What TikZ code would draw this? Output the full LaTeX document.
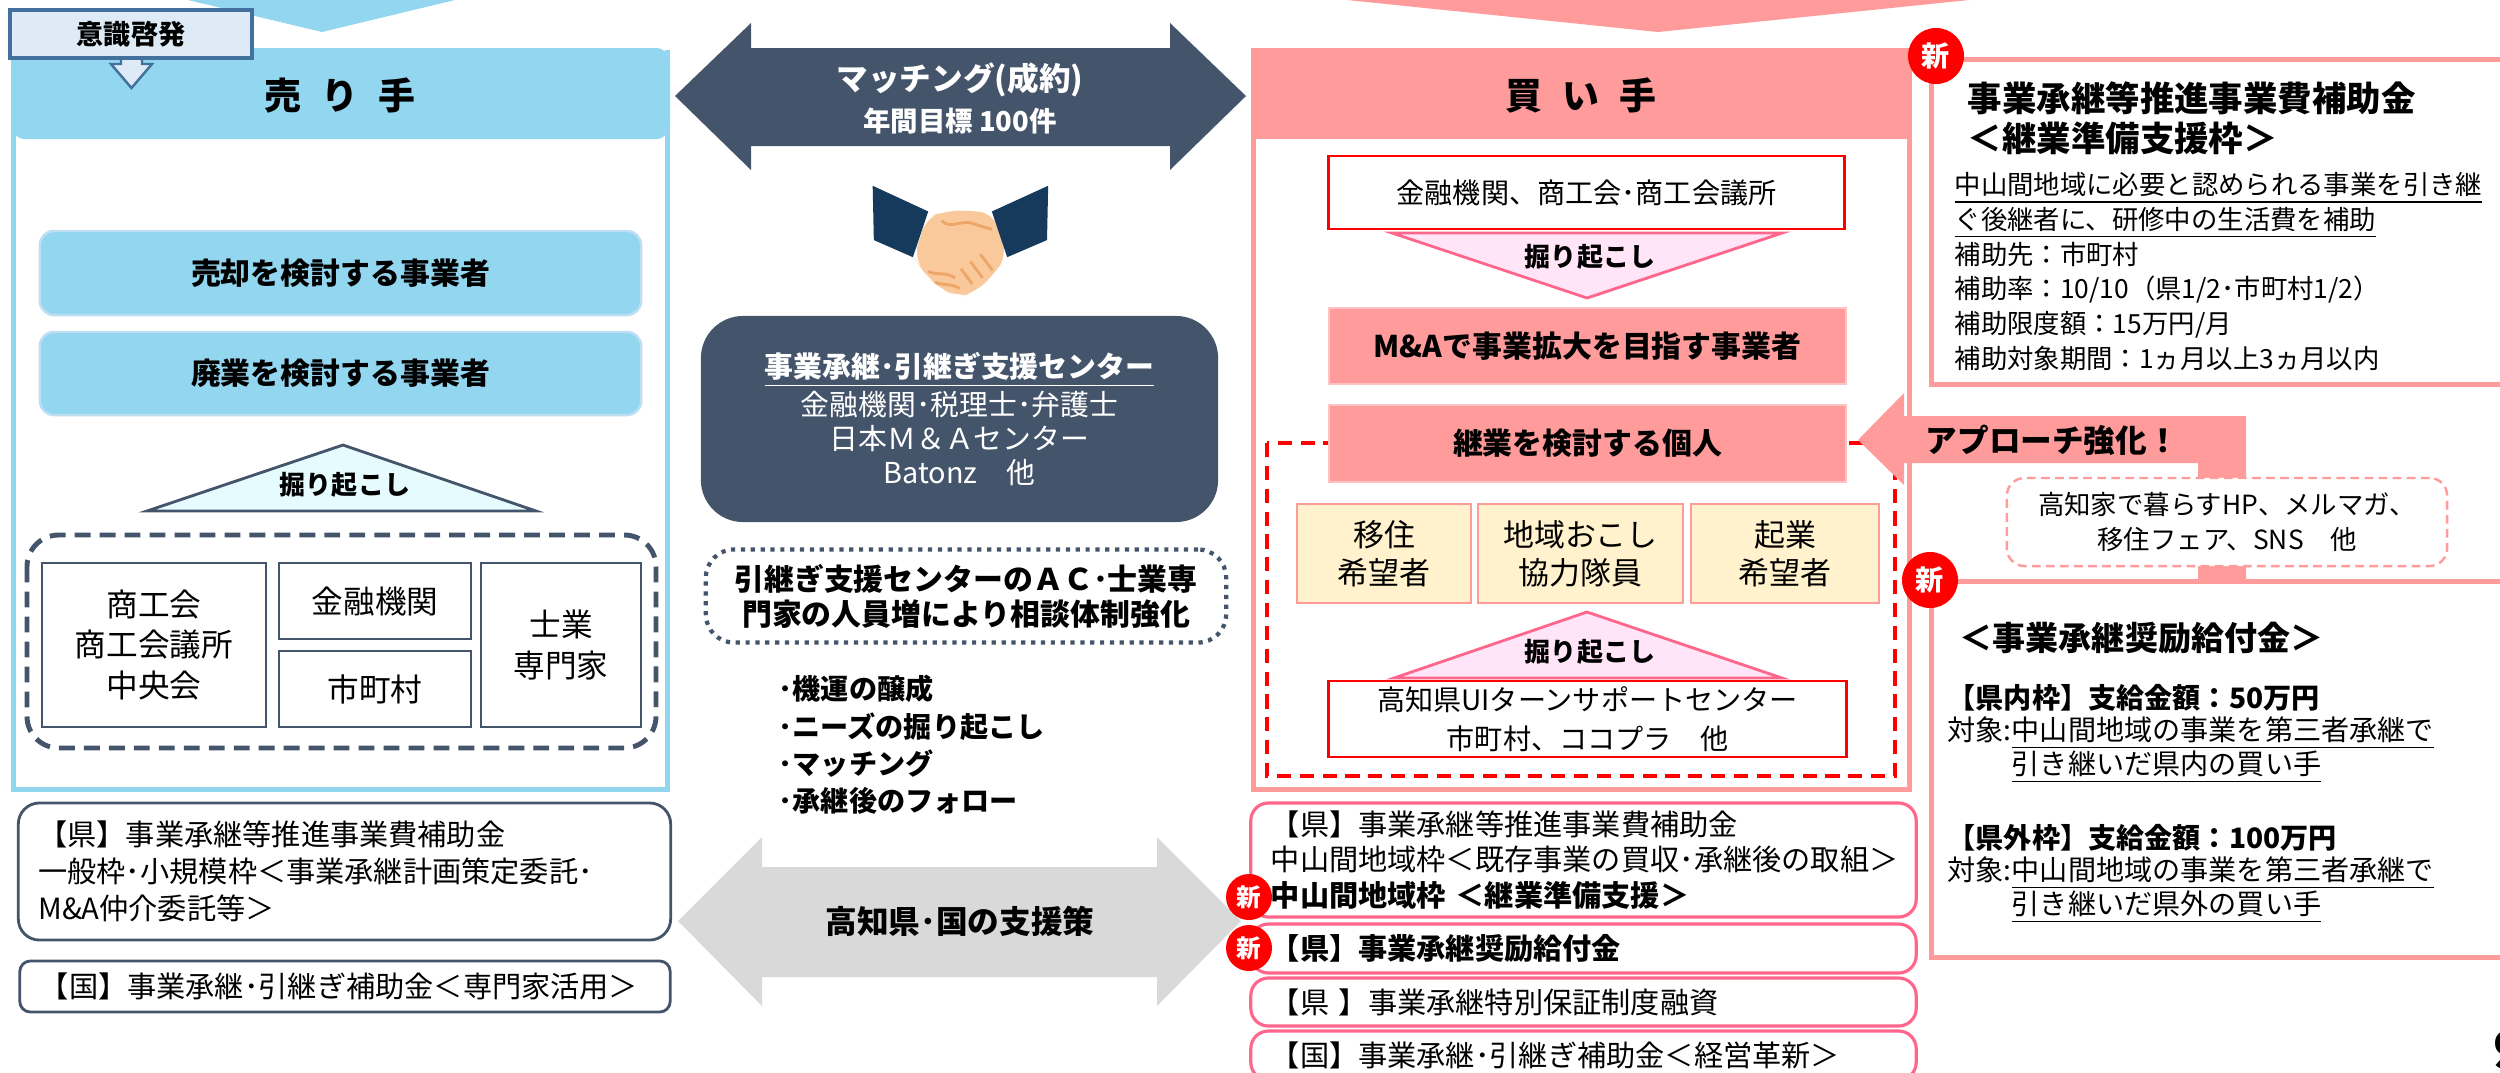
\documentclass[tikz,border=0pt]{standalone}
\usepackage{fontspec}
\setmainfont{Noto Sans CJK JP}
\usetikzlibrary{positioning}

\definecolor{skyfill}{RGB}{146,214,240}
\definecolor{skyedge}{RGB}{190,222,244}
\definecolor{slate}{RGB}{68,84,106}
\definecolor{steel}{RGB}{65,113,156}
\definecolor{paleblue}{RGB}{222,235,247}
\definecolor{palecyan}{RGB}{229,251,253}
\definecolor{salmon}{RGB}{255,155,155}
\definecolor{rose}{RGB}{255,102,140}
\definecolor{palepink}{RGB}{255,229,247}
\definecolor{cream}{RGB}{255,242,204}
\definecolor{mist}{RGB}{217,217,217}
\definecolor{navy}{RGB}{22,58,92}
\definecolor{skin}{RGB}{249,200,155}
\definecolor{skinline}{RGB}{238,166,104}

\newcommand{\fsz}[2]{\fontsize{#1}{#2}\selectfont}

\begin{document}
\begin{tikzpicture}[x=0.01cm, y=-0.01cm,
  tag/.style={draw=steel, fill=paleblue, line width=0.9pt, inner sep=0pt, font=\fsz{7.7pt}{9pt}\bfseries},
  heading/.style={inner sep=0pt, font=\fsz{10.5pt}{12pt}\bfseries},
  skybox/.style={fill=skyfill, draw=skyedge, line width=0.7pt, rounded corners=4pt, inner sep=0pt, font=\fsz{8.5pt}{10pt}\bfseries},
  orgbox/.style={draw=slate, line width=0.8pt, fill=white, inner sep=0pt, align=center, font=\fsz{9pt}{11.4pt}},
  plate/.style={draw=slate, line width=0.8pt, fill=white, align=left, inner ysep=0pt, font=\fsz{8.3pt}{10.5pt}},
  redbox/.style={draw=red, line width=0.8pt, fill=white, inner sep=0pt, align=center, font=\fsz{8pt}{11pt}},
  salmonbox/.style={fill=salmon, draw=salmon!60!white, line width=0.5pt, inner sep=0pt, font=\fsz{8.5pt}{10pt}\bfseries},
  creambox/.style={fill=cream, draw=salmon, line width=0.8pt, inner sep=0pt, align=center, font=\fsz{8.8pt}{10.8pt}},
  roseplate/.style={draw=rose, line width=0.9pt, fill=white, rounded corners=5pt, align=left, inner ysep=0pt, font=\fsz{8.3pt}{10pt}},
  newmark/.style={circle, fill=red, text=white, inner sep=0pt, minimum size=#1, font=\fsz{7pt}{7pt}\bfseries},
  newmark/.default=0.46cm,
  dig/.style={inner sep=0pt, font=\fsz{7.4pt}{8pt}\bfseries},
  note/.style={inner sep=0pt, anchor=west, align=left, font=\fsz{7.5pt}{9.85pt}}]

\useasboundingbox (0,0) rectangle (2500,1072);
\clip (0,0) rectangle (2500,1072);

% chevrons coming in from above
\fill[skyfill] (188,0) -- (322,32) -- (455,0) -- cycle;
\fill[salmon] (1347,0) -- (1658,32) -- (1969,0) -- cycle;

% ---- seller side ----
\fill[skyfill, rounded corners=4pt] (11,48) rectangle (670,139);
\draw[skyfill, line width=1.4pt] (13.5,50) -- (13.5,789.5) -- (667.5,789.5) -- (667.5,50);
\node[heading] (seller) at (340,95) {売\hspace{0.55em}り\hspace{0.55em}手};

\filldraw[fill=paleblue, draw=steel, line width=0.7pt] (121,56) -- (121,64) -- (111,64) -- (131.5,88) -- (152,64) -- (142,64) -- (142,56);
\node[tag, minimum width=2.42cm, minimum height=0.48cm] (aware) at (131,34) {意識啓発};

\node[skybox, minimum width=6.01cm, minimum height=0.84cm] (sell) at (340.5,273) {売却を検討する事業者};
\node[skybox, minimum width=6.01cm, minimum height=0.83cm] (close) at (340.5,373.5) {廃業を検討する事業者};

\filldraw[fill=palecyan, draw=slate, line width=0.8pt] (147,511) -- (343,445) -- (536,511) -- cycle;
\node[dig] (digl) at (345,485) {掘り起こし};

\draw[slate, line width=1.4pt, dash pattern=on 4.5pt off 2.6pt, rounded corners=9pt] (27,535) rectangle (656,748);
\node[orgbox, minimum width=2.24cm, minimum height=1.64cm] (chamber) at (154,645) {商工会\\商工会議所\\中央会};
\node[orgbox, minimum width=1.92cm, minimum height=0.76cm] (banksl) at (375,601) {金融機関};
\node[orgbox, minimum width=1.92cm, minimum height=0.76cm] (towns) at (375,689) {市町村};
\node[orgbox, minimum width=1.60cm, minimum height=1.64cm] (experts) at (561,645) {士業\\専門家};

\node[plate, text width=6.12cm, inner xsep=0.2cm, minimum height=1.37cm, rounded corners=6pt] (kenl) at (344.5,871.5)
  {【県】事業承継等推進事業費補助金\\一般枠･小規模枠＜事業承継計画策定委託･\\M\&A仲介委託等＞};
\node[plate, text width=6.10cm, inner xsep=0.2cm, minimum height=0.51cm, rounded corners=3pt] (kunil) at (345,986.5)
  {【国】事業承継･引継ぎ補助金＜専門家活用＞};

% ---- middle ----
\fill[slate] (675,96) -- (751,23) -- (751,48) -- (1170,48) -- (1170,23) -- (1246,96) -- (1170,170) -- (1170,146) -- (751,146) -- (751,170) -- cycle;
\node[text=white, inner sep=0pt, font=\fsz{9pt}{10pt}\bfseries] (match) at (960,80) {マッチング(成約)};
\node[text=white, inner sep=0pt, font=\fsz{7.8pt}{9pt}\bfseries] (target) at (960,121) {年間目標 100件};

% handshake
\begin{scope}[shift={(660,0)}, x=0.003827cm, y=-0.003571cm]
  \fill[skin, rounded corners=4pt] (695,610) -- (740,592) -- (800,588) -- (870,598) -- (906,712) -- (872,768) -- (820,820) -- (775,832) -- (735,808) -- (700,780) -- (680,745) -- (662,722) -- cycle;
  \draw[skinline, line width=0.8pt] (735,618) .. controls (760,645) and (790,610) .. (822,628) -- (866,642);
  \draw[skinline, line width=0.8pt] (785,752) -- (815,795) (810,732) -- (842,778) (836,712) -- (868,757);
  \draw[skinline, line width=0.8pt] (700,760) .. controls (725,772) and (745,760) .. (770,778) (718,790) .. controls (740,800) and (760,792) .. (782,808);
  \fill[navy] (555,520) -- (700,592) -- (660,720) -- (558,672) -- cycle;
  \fill[navy] (1013,520) -- (866,592) -- (906,720) -- (1010,672) -- cycle;
\end{scope}

\node[fill=slate, rounded corners=12pt, minimum width=5.17cm, minimum height=2.06cm, text=white, align=center, inner sep=0pt, font=\fsz{8.2pt}{9.7pt}] (centre) at (959.5,419)
  {\underline{\bfseries 事業承継･引継ぎ支援センター}\\金融機関･税理士･弁護士\\日本Ｍ＆Ａセンター\\Batonz\quad 他};

\node[draw=slate, line width=1.2pt, dash pattern=on 1.2pt off 1.6pt, rounded corners=8pt, minimum width=5.2cm, minimum height=0.93cm, inner sep=0pt, align=center, font=\fsz{8.5pt}{10pt}\bfseries] (staff) at (966,596)
  {引継ぎ支援センターのＡＣ･士業専\\門家の人員増により相談体制強化};

\node[inner sep=0pt, anchor=west, align=left, font=\fsz{8pt}{10.6pt}\bfseries] (roles) at (778,745)
  {･機運の醸成\\･ニーズの掘り起こし\\･マッチング\\･承継後のフォロー};

\fill[mist] (678,921) -- (762,837) -- (762,867) -- (1157,867) -- (1157,837) -- (1241,921) -- (1157,1006) -- (1157,977) -- (762,977) -- (762,1006) -- cycle;
\node[inner sep=0pt, font=\fsz{9pt}{10pt}\bfseries] (policy) at (960,921) {高知県･国の支援策};

% ---- buyer side ----
\fill[salmon] (1251,48) rectangle (1912,139);
\draw[salmon, line width=1.4pt] (1253.5,50) -- (1253.5,789.5) -- (1909.5,789.5) -- (1909.5,50);
\node[heading] (buyer) at (1581,95) {買\hspace{0.55em}い\hspace{0.55em}手};

\node[redbox, minimum width=5.15cm, minimum height=0.73cm] (banksr) at (1586.5,192.5) {金融機関、商工会･商工会議所};
\filldraw[fill=palepink, draw=rose, line width=0.8pt] (1392,233) -- (1782,233) -- (1587,298) -- cycle;
\node[dig] (digb) at (1590,257) {掘り起こし};
\node[salmonbox, minimum width=5.17cm, minimum height=0.76cm] (ma) at (1587.5,346) {M\&Aで事業拡大を目指す事業者};

\draw[red, line width=1.1pt, dash pattern=on 4pt off 2.5pt] (1267,443) rectangle (1895,776);
\node[salmonbox, minimum width=5.17cm, minimum height=0.77cm] (heir) at (1587.5,443.5) {継業を検討する個人};

\node[creambox, minimum width=1.74cm, minimum height=0.99cm] (movers) at (1384,553.5) {移住\\希望者};
\node[creambox, minimum width=2.05cm, minimum height=0.99cm] (coop) at (1580.5,553.5) {地域おこし\\協力隊員};
\node[creambox, minimum width=1.88cm, minimum height=0.99cm] (starters) at (1785,553.5) {起業\\希望者};

\filldraw[fill=palepink, draw=rose, line width=0.8pt] (1394,678) -- (1587,612) -- (1782,678) -- cycle;
\node[dig] (digc) at (1590,652) {掘り起こし};
\node[redbox, minimum width=5.17cm, minimum height=0.76cm] (uiturn) at (1587.5,719) {高知県UIターンサポートセンター\\市町村、ココプラ\quad 他};

\node[roseplate, text width=6.25cm, inner xsep=0.2cm, minimum height=1.14cm] (kenr) at (1583.5,860)
  {【県】事業承継等推進事業費補助金\\中山間地域枠＜既存事業の買収･承継後の取組＞\\\textbf{中山間地域枠 ＜継業準備支援＞}};
\node[roseplate, text width=6.25cm, inner xsep=0.2cm, minimum height=0.49cm] (rewardr) at (1583.5,948.5)
  {\textbf{【県】事業承継奨励給付金}};
\node[roseplate, text width=6.25cm, inner xsep=0.2cm, minimum height=0.48cm] (loan) at (1583.5,1002)
  {【県 】事業承継特別保証制度融資};
\node[roseplate, text width=6.25cm, inner xsep=0.2cm, minimum height=0.49cm] (kunir) at (1583.5,1055.5)
  {【国】事業承継･引継ぎ補助金＜経営革新＞};
\node[newmark] (newc) at (1249,897) {新};
\node[newmark] (newd) at (1249,948) {新};

% ---- far right ----
\draw[salmon, line width=1.4pt] (1931.5,59.5) rectangle (2530,384.5);
\node[newmark=0.56cm, font=\fsz{8pt}{8pt}\bfseries] (newa) at (1936,56) {新};
\node[note, font=\fsz{9.8pt}{11.4pt}\bfseries] (prep) at (1967,118) {事業承継等推進事業費補助金\\＜継業準備支援枠＞};
\node[note] (prepbody) at (1954,271.5)
  {\underline{中山間地域に必要と認められる事業を引き継}\\\underline{ぐ後継者に、研修中の生活費を補助}\\補助先：市町村\\補助率：10/10（県1/2･市町村1/2）\\補助限度額：15万円/月\\補助対象期間：1ヵ月以上3ヵ月以内};

\fill[salmon] (2246,579) -- (2246,416) -- (1904,416) -- (1904,393) -- (1858,440) -- (1904,485) -- (1904,463) -- (2198,463) -- (2198,579) -- cycle;
\node[inner sep=0pt, anchor=west, font=\fsz{9pt}{10pt}\bfseries] (approach) at (1925,440) {アプローチ強化！};
\node[draw=salmon, fill=white, line width=0.7pt, dash pattern=on 2.5pt off 1.5pt, rounded corners=5pt, minimum width=4.40cm, minimum height=0.88cm, inner sep=0pt, align=center, font=\fsz{7.5pt}{10.2pt}] (media) at (2227,522)
  {高知家で暮らすHP、メルマガ、\\移住フェア、SNS\quad 他};

\draw[salmon, line width=1.4pt] (1931.5,581.5) rectangle (2530,957.5);
\node[newmark=0.56cm, font=\fsz{8pt}{8pt}\bfseries] (newb) at (1930,580) {新};
\node[note, font=\fsz{9.4pt}{11pt}\bfseries] (reward) at (1959,638) {＜事業承継奨励給付金＞};
\node[note, font=\fsz{8pt}{10pt}\bfseries] (inside) at (1947,698) {【県内枠】支給金額：50万円};
\node[note, font=\fsz{8pt}{9.7pt}] (insidefor) at (1947,750)
  {対象:\underline{中山間地域の事業を第三者承継で}\\\hphantom{対象:}\underline{引き継いだ県内の買い手}};
\node[note, font=\fsz{8pt}{10pt}\bfseries] (outside) at (1947,838) {【県外枠】支給金額：100万円};
\node[note, font=\fsz{8pt}{9.7pt}] (outsidefor) at (1947,890)
  {対象:\underline{中山間地域の事業を第三者承継で}\\\hphantom{対象:}\underline{引き継いだ県外の買い手}};

\node[inner sep=0pt, anchor=west, font=\fsz{15pt}{15pt}\bfseries] (page) at (2493,1050) {9};
\end{tikzpicture}
\end{document}
